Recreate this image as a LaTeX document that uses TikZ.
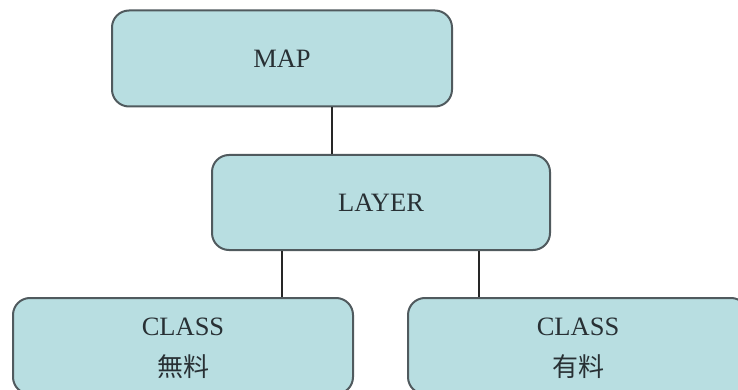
\documentclass[tikz,border=0pt]{standalone}
\usepackage{fontspec}
\setmainfont{Liberation Serif}
\newfontfamily\cjk{Noto Sans CJK JP}
\definecolor{boxfill}{RGB}{184,222,225}
\definecolor{boxline}{RGB}{80,90,94}
\definecolor{txt}{RGB}{40,48,52}
\begin{document}
\begin{tikzpicture}[x=1pt,y=-1pt,
  box/.style={draw=boxline, line width=2pt, fill=boxfill, rounded corners=17pt,
    minimum width=340pt, minimum height=96pt, inner sep=0pt, align=center,
    text=txt, font=\fontsize{26.5pt}{39pt}\selectfont},
  lbl/.style={anchor=base, inner sep=0pt, text=txt, font=\fontsize{26.5pt}{39pt}\selectfont},
  jlbl/.style={lbl, font=\fontsize{26pt}{39pt}\selectfont\cjk},
  conn/.style={draw=black!85, line width=1.5pt}]
\useasboundingbox (0,0) rectangle (738,390);
\clip (0,0) rectangle (738,390);
\fill[white] (0,0) rectangle (738,390);
\node[box] (MAP) at (282,58.5) {MAP};
\node[box, minimum width=338pt, minimum height=95pt] (LAYER) at (381,202.5) {LAYER};
\node[box] (C1) at (183,346) {};
\node[box] (C2) at (578,346) {};
\node[lbl] (C1a) at ([yshift=11pt]C1.center) {CLASS};
\node[jlbl] (C1b) at ([yshift=-30pt]C1.center) {無料};
\node[lbl] (C2a) at ([yshift=11pt]C2.center) {CLASS};
\node[jlbl] (C2b) at ([yshift=-30pt]C2.center) {有料};
\draw[conn] ([xshift=50pt]MAP.south) -- ([xshift=50pt]MAP.south |- LAYER.north);
\draw[conn] ([xshift=-99pt]LAYER.south) -- ([xshift=-99pt]LAYER.south |- C1.north);
\draw[conn] ([xshift=98pt]LAYER.south) -- ([xshift=98pt]LAYER.south |- C2.north);
\end{tikzpicture}
\end{document}
